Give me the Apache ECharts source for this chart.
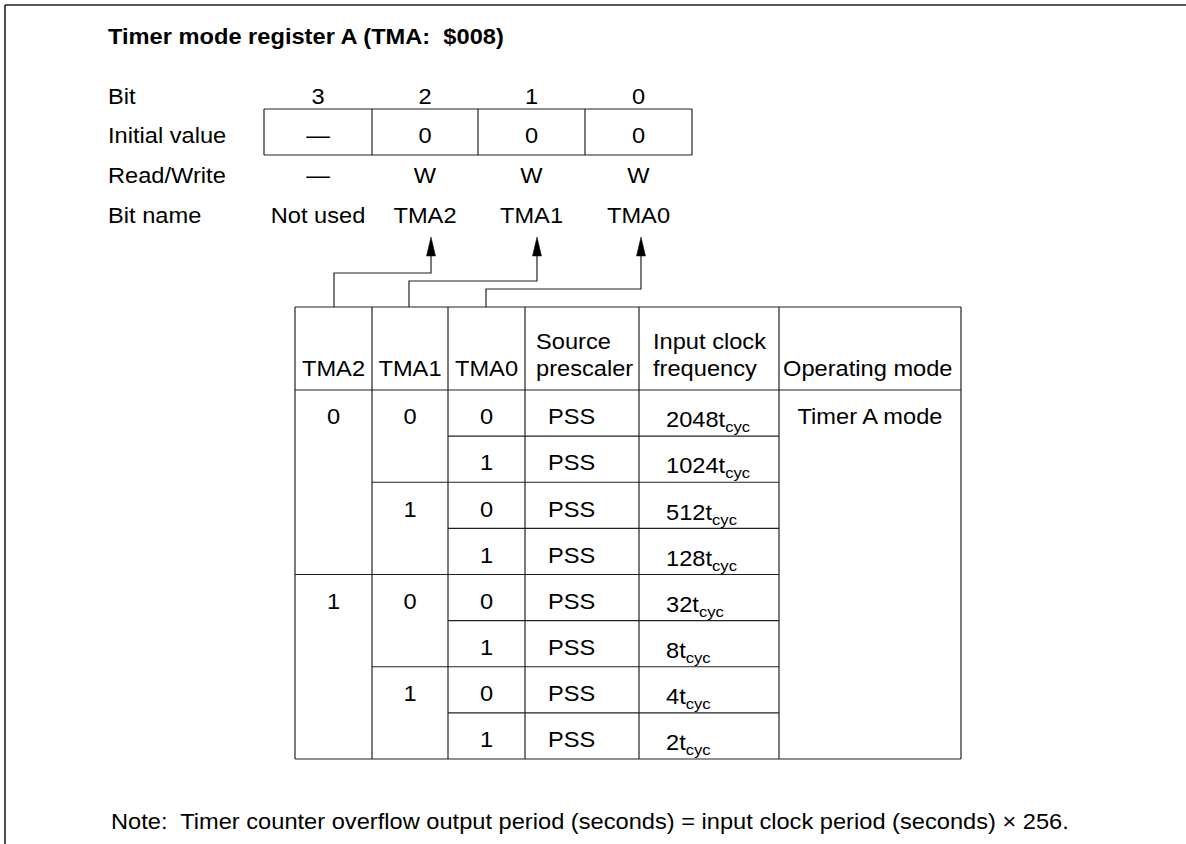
<!DOCTYPE html>
<html><head><meta charset="utf-8">
<script src="https://cdn.jsdelivr.net/npm/echarts@6/dist/echarts.min.js"></script>
<style>html,body{margin:0;padding:0;background:#fff}#c{width:1186px;height:844px}</style>
</head><body><div id="c"></div>
<script>
// ---- content ----
const titleText = 'Timer mode register A (TMA:  $008)';
const rowLabels = ['Bit', 'Initial value', 'Read/Write', 'Bit name'];
const bitNumbers = ['3', '2', '1', '0'];
const initialValues = ['\u2014', '0', '0', '0'];
const readWrite = ['\u2014', 'W', 'W', 'W'];
const bitNames = ['Not used', 'TMA2', 'TMA1', 'TMA0'];
const tableHeaders = ['TMA2', 'TMA1', 'TMA0', 'Source\nprescaler', 'Input clock\nfrequency', 'Operating mode'];
const tma2Values = ['0', '1'];                       // each spans 4 rows
const tma1Values = ['0', '1', '0', '1'];             // each spans 2 rows
const tma0Values = ['0', '1', '0', '1', '0', '1', '0', '1'];
const prescalers = ['PSS', 'PSS', 'PSS', 'PSS', 'PSS', 'PSS', 'PSS', 'PSS'];
const clockMultipliers = ['2048', '1024', '512', '128', '32', '8', '4', '2'];
const clockUnit = 't';
const clockSubscript = 'cyc';
const operatingMode = 'Timer A mode';
const noteText = 'Note:  Timer counter overflow output period (seconds) = input clock period (seconds) \u00d7 256.';

// ---- layout ----
const FONT = '"Liberation Sans", Arial, Helvetica, sans-serif';
const FS = 22;
const SX = 1.075;               // the reference glyphs are slightly wide
const LINE = '#222';
const labelX = 108;
const regRowsY = [96, 135, 175, 215];
const regColX = [264, 372, 478, 585, 692];
const regBoxTop = 109, regBoxBottom = 155;
const colX = [295, 372, 448, 525, 639, 779, 961];
const tableTop = 307, headerBottom = 390, tableBottom = 759;
const rowH = (tableBottom - headerBottom) / 8;

const els = [];
function txt(x, y, str, opt) {
  const st = Object.assign({
    text: str, fontSize: FS, fontFamily: FONT, fill: '#000',
    textAlign: 'center', textVerticalAlign: 'middle', verticalAlign: 'middle'
  }, opt || {});
  st.align = st.textAlign;
  els.push({ type: 'text', silent: true, x: x, y: y, scaleX: SX, style: st });
}
function ln(x1, y1, x2, y2, w) {
  els.push({ type: 'line', silent: true, shape: { x1: x1, y1: y1, x2: x2, y2: y2 },
    style: { stroke: LINE, lineWidth: w || 1.2 } });
}

// frame
ln(5, 5, 1186, 5, 1.6);
ln(5, 5, 5, 844, 1.6);

// title
txt(labelX, 36, titleText, { textAlign: 'left', fontWeight: 'bold' });

// register rows
rowLabels.forEach((l, i) => txt(labelX, regRowsY[i], l, { textAlign: 'left' }));
const regRows = [bitNumbers, initialValues, readWrite, bitNames];
regRows.forEach((row, r) => {
  row.forEach((v, c) => {
    const cx = (regColX[c] + regColX[c + 1]) / 2;
    txt(cx, regRowsY[r], v);
  });
});
// register box
ln(regColX[0], regBoxTop, regColX[4], regBoxTop);
ln(regColX[0], regBoxBottom, regColX[4], regBoxBottom);
regColX.forEach(x => ln(x, regBoxTop, x, regBoxBottom));

// connectors with arrows
const connectors = [
  { from: 334, to: 431, y: 273 },
  { from: 409, to: 537, y: 281 },
  { from: 486, to: 641, y: 289 }
];
const arrowTip = 237, arrowBase = 256;
connectors.forEach(c => {
  els.push({ type: 'polyline', silent: true,
    shape: { points: [[c.from, tableTop], [c.from, c.y], [c.to, c.y], [c.to, arrowBase]] },
    style: { stroke: LINE, lineWidth: 1.2, fill: null } });
  els.push({ type: 'polygon', silent: true,
    shape: { points: [[c.to, arrowTip], [c.to - 4.5, arrowBase], [c.to + 4.5, arrowBase]] },
    style: { fill: '#000', stroke: '#000', lineWidth: 0.5 } });
});

// table grid
ln(colX[0], tableTop, colX[6], tableTop);
ln(colX[0], headerBottom, colX[6], headerBottom);
ln(colX[0], tableBottom, colX[6], tableBottom);
colX.forEach(x => ln(x, tableTop, x, tableBottom));
for (let i = 1; i < 8; i++) {
  const y = headerBottom + rowH * i;
  const xs = i % 4 === 0 ? colX[0] : (i % 2 === 0 ? colX[1] : colX[2]);
  ln(xs, y, colX[5], y);
}

// headers
const hdrY = 368;
txt((colX[0] + colX[1]) / 2, hdrY, tableHeaders[0]);
txt((colX[1] + colX[2]) / 2, hdrY, tableHeaders[1]);
txt((colX[2] + colX[3]) / 2, hdrY, tableHeaders[2]);
txt(536, 355, tableHeaders[3], { textAlign: 'left', lineHeight: 27 });
txt(653, 355, tableHeaders[4], { textAlign: 'left', lineHeight: 27 });
txt(783, hdrY, tableHeaders[5], { textAlign: 'left' });

// body
const rowY = i => headerBottom + rowH * (i + 0.5) + 3.5;
tma2Values.forEach((v, k) => txt((colX[0] + colX[1]) / 2, rowY(k * 4), v));
tma1Values.forEach((v, k) => txt((colX[1] + colX[2]) / 2, rowY(k * 2), v));
tma0Values.forEach((v, k) => txt((colX[2] + colX[3]) / 2, rowY(k), v));
prescalers.forEach((v, k) => txt(548, rowY(k), v, { textAlign: 'left' }));
clockMultipliers.forEach((v, k) => {
  els.push({ type: 'text', silent: true, x: 666, y: rowY(k) + 3, scaleX: SX, style: {
    text: '{m|' + v + clockUnit + '}{s|' + clockSubscript + '}',
    textAlign: 'left', align: 'left', textVerticalAlign: 'middle', verticalAlign: 'middle',
    rich: {
      m: { fontSize: FS, fontFamily: FONT, fill: '#000', lineHeight: 30 },
      s: { fontSize: 15.5, fontFamily: FONT, fill: '#000', lineHeight: 12, verticalAlign: 'bottom' }
    }
  } });
});
txt((colX[5] + colX[6]) / 2, rowY(0), operatingMode);

// note
txt(111, 821, noteText, { textAlign: 'left' });

const chart = echarts.init(document.getElementById('c'), null, { renderer: 'svg', width: 1186, height: 844 });
chart.setOption({
  backgroundColor: '#fff',
  animation: false,
  graphic: { elements: els }
});
</script>
</body></html>
